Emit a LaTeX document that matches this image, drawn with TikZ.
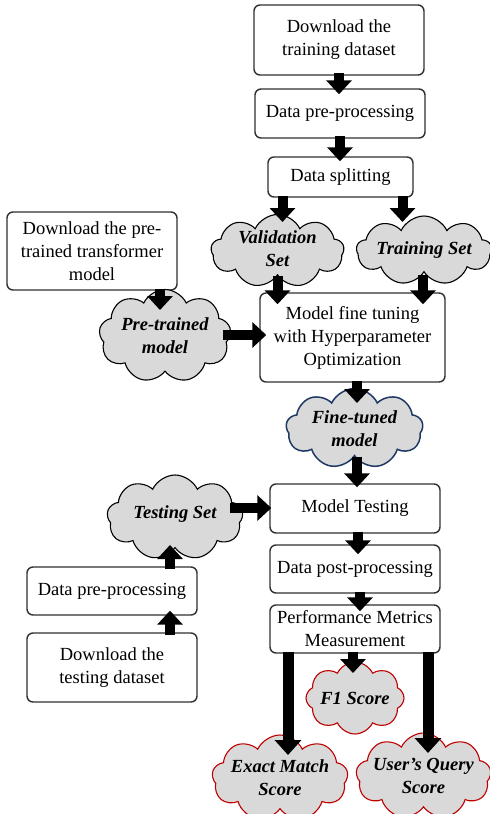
\documentclass[tikz,border=0pt]{standalone}
\usepackage{fontspec}
\setmainfont{Liberation Serif}
\usetikzlibrary{shapes.symbols,arrows.meta,calc}
\definecolor{cloudfill}{HTML}{D9D9D9}
\definecolor{navy}{HTML}{1F3864}
\definecolor{redline}{HTML}{C00000}
\definecolor{boxline}{HTML}{303030}
\tikzset{
  stepbox/.style={draw=boxline, line width=1.4pt, rounded corners=6pt, fill=white,
    align=center, inner sep=2pt, font=\fontsize{18.5}{23}\selectfont},
  cloudshape/.style={cloud, cloud puffs=9, cloud puff arc=130, cloud ignores aspect,
    draw=black, line width=1.1pt, fill=cloudfill, inner sep=0pt},
  cloudtxt/.style={align=center, inner sep=0pt, font=\fontsize{18.5}{23}\selectfont\bfseries\itshape},
  barrow/.style={draw=black, line width=10pt, -{Triangle[width=25pt,length=14pt]}},
  bigarrow/.style={draw=black, line width=11pt, -{Triangle[width=26pt,length=15pt]}},
}
\begin{document}
\begin{tikzpicture}[x=1pt,y=-1pt]
\useasboundingbox (0,0) rectangle (490,814);
% boxes
\node[stepbox, minimum width=170pt, minimum height=70pt] (dltrain) at (339,40) {Download the\\training dataset};
\node[stepbox, minimum width=170pt, minimum height=49pt] (prep1) at (340,113.5) {Data pre-processing};
\node[stepbox, minimum width=145pt, minimum height=40pt] (split) at (340.5,177) {Data splitting};
\node[stepbox, minimum width=170pt, minimum height=78pt] (dlpre) at (92,251) {Download the pre-\\trained transformer\\model};
\node[stepbox, minimum width=185pt, minimum height=89pt] (finetune) at (352.5,337.5) {Model fine tuning\\with Hyperparameter\\Optimization};
\node[stepbox, minimum width=170pt, minimum height=49pt] (modeltest) at (355,508.5) {Model Testing};
\node[stepbox, minimum width=170pt, minimum height=48pt] (post) at (355,569) {Data post-processing};
\node[stepbox, minimum width=170pt, minimum height=48pt] (prep2) at (112,591) {Data pre-processing};
\node[stepbox, minimum width=170pt, minimum height=69pt] (dltest) at (112,667.5) {Download the\\testing dataset};
\node[stepbox, minimum width=170pt, minimum height=48pt] (perf) at (355,629) {Performance Metrics\\Measurement};
% clouds
\node[cloudshape, minimum width=133pt, minimum height=73pt] (valid) at (277.5,251) {};
\node[cloudtxt] at ($(valid.center)+(0,-2)$) {Validation\\Set};
\node[cloudshape, minimum width=135pt, minimum height=69pt] (train) at (424,250.5) {};
\node[cloudtxt] at (train.center) {Training Set};
\node[cloudshape, minimum width=132pt, minimum height=93pt] (pretrained) at (165,336) {};
\node[cloudtxt] at (pretrained.center) {Pre-trained\\model};
\node[cloudshape, draw=navy, line width=1.5pt, minimum width=137pt, minimum height=80pt] (finetuned) at (354.5,428.5) {};
\node[cloudtxt] at (finetuned.center) {Fine-tuned\\model};
\node[cloudshape, minimum width=136pt, minimum height=85pt] (testset) at (175,517.5) {};
\node[cloudtxt] at ($(testset.center)+(0,-3)$) {Testing Set};
\node[cloudshape, draw=redline, cloud puffs=8, minimum width=98pt, minimum height=72pt] (f1) at (355,698) {};
\node[cloudtxt] at (f1.center) {F1 Score};
\node[cloudshape, draw=redline, minimum width=136pt, minimum height=86pt] (exact) at (280,778) {};
\node[cloudtxt] at (exact.center) {Exact Match\\Score};
\node[cloudshape, draw=redline, minimum width=135pt, minimum height=86pt] (user) at (423.5,776) {};
\node[cloudtxt] at (user.center) {User’s Query\\Score};
% arrow start points
\coordinate (c1) at ($(dltrain.south)+(0,-3)$);
\coordinate (c2) at ($(prep1.south)+(0,-3)$);
\coordinate (c3) at ($(split.south)+(-58,-2)$);
\coordinate (c4) at ($(split.south)+(62,-2)$);
\coordinate (c5) at ($(valid.center)+(0,25)$);
\coordinate (c6) at ($(train.center)+(-1,24)$);
\coordinate (c7) at ($(dlpre.south)+(68,-2)$);
\coordinate (c8) at ($(pretrained.center)+(58,-1)$);
\coordinate (c9) at ($(finetune.south)+(4.5,-2)$);
\coordinate (c10) at ($(finetuned.center)+(2.5,28)$);
\coordinate (c11) at ($(testset.center)+(55,-9.5)$);
\coordinate (c12) at ($(modeltest.south)+(3,-2)$);
\coordinate (c13) at ($(post.south)+(5,-2)$);
\coordinate (c14) at ($(perf.south)+(-2,-2)$);
\coordinate (c15) at ($(perf.south)+(-67,-2)$);
\coordinate (c16) at ($(perf.south)+(73,-2)$);
\coordinate (c17) at ($(dltest.north)+(58,3)$);
\coordinate (c18) at ($(prep2.north)+(58,3)$);
% arrows
\draw[barrow, shorten >=-6pt] (c1) -- (c1 |- prep1.north);
\draw[barrow, shorten >=-5pt] (c2) -- (c2 |- split.north);
\draw[barrow, shorten >=29pt] (c3) -- (c3 |- valid.center);
\draw[barrow, shorten >=28.5pt] (c4) -- (c4 |- train.center);
\draw[barrow, shorten >=-12pt] (c5) -- (c5 |- finetune.north);
\draw[barrow, shorten >=-12pt] (c6) -- (c6 |- finetune.north);
\draw[barrow, shorten >=26pt] (c7) -- (c7 |- pretrained.center);
\draw[barrow, shorten >=-7pt] (c8) -- (c8 -| finetune.west);
\draw[barrow, shorten >=25.5pt] (c9) -- (c9 |- finetuned.center);
\draw[barrow, shorten >=-4pt] (c10) -- (c10 |- modeltest.north);
\draw[barrow, shorten >=-2pt] (c11) -- (c11 -| modeltest.west);
\draw[barrow, shorten >=-10pt] (c12) -- (c12 |- post.north);
\draw[barrow, shorten >=-7pt] (c13) -- (c13 |- perf.north);
\draw[barrow, shorten >=25pt] (c14) -- (c14 |- f1.center);
\draw[bigarrow, shorten >=23pt] (c15) -- (c15 |- exact.center);
\draw[bigarrow, shorten >=23pt] (c16) -- (c16 |- user.center);
\draw[barrow, shorten >=-5pt] (c17) -- (c17 |- prep2.south);
\draw[barrow, shorten >=27.5pt] (c18) -- (c18 |- testset.center);
\end{tikzpicture}
\end{document}
